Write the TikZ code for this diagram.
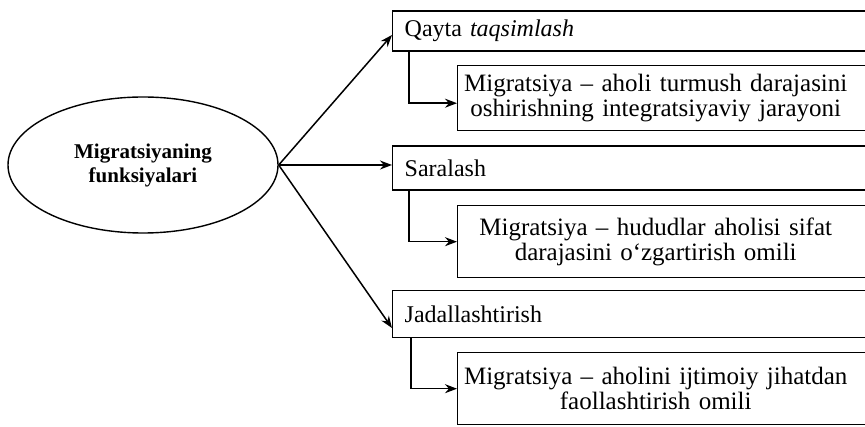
\documentclass[tikz,border=0pt]{standalone}
\usepackage{fontspec}
\setmainfont{Liberation Serif}
\usetikzlibrary{arrows.meta, shapes.geometric}
\tikzset{
    arrow/.style={-{Stealth[length=12pt,width=9pt]}, line width=1.5pt},
    mainnode/.style={draw, ellipse, line width=1.4pt, minimum width=270pt, minimum height=136pt, align=center, font=\fontsize{21}{24}\selectfont\bfseries},
    headbox/.style={draw, line width=1.4pt, anchor=west, minimum height=44pt, text width=470pt, inner xsep=12pt, align=left, font=\fontsize{24}{25}\selectfont},
    subbox/.style={draw, line width=1.4pt, anchor=north west, minimum height=72pt, inner xsep=0pt, text width=440pt, align=left, font=\fontsize{25}{25}\selectfont}
}

\begin{document}
\begin{tikzpicture}[x=1pt, y=-1pt]
    \path[use as bounding box] (0,0) rectangle (865,427);
    \clip (0,0) rectangle (865,427);
    % Main node
    \node[mainnode] (func) at (143,165) {Migratsiyaning\\funksiyalari};
    % Functions
    \node[headbox, minimum height=40pt] (head1) at (392,31) {Qayta \textit{taqsimlash}};
    \node[headbox] (head2) at (392,168) {Saralash};
    \node[headbox, minimum height=47pt] (head3) at (392,314) {Jadallashtirish};
    % Explanations
    \node[subbox, minimum height=65pt] (sub1) at (457,65) {\parbox{396pt}{\centering Migratsiya -- aholi turmush darajasini\\oshirishning integratsiyaviy jarayoni}};
    \node[subbox] (sub2) at (457,205) {\parbox{396pt}{\centering Migratsiya -- hududlar aholisi sifat\\darajasini o‘zgartirish omili}};
    \node[subbox] (sub3) at (457,352) {\parbox{396pt}{\centering Migratsiya -- aholini ijtimoiy jihatdan\\faollashtirish omili}};
    % Arrows from main node
    \draw[arrow] (func.east) -- ([yshift=-4pt]head1.west);
    \draw[arrow] (func.east) -- ([yshift=3pt]head2.west);
    \draw[arrow] (func.east) -- ([yshift=-14pt]head3.west);
    % Elbows
    \draw[arrow] ([xshift=17pt]head1.south west) |- ([yshift=-5pt]sub1.west);
    \draw[arrow] ([xshift=17pt]head2.south west) |- (sub2.west);
    \draw[arrow] ([xshift=19pt]head3.south west) |- (sub3.west);
\end{tikzpicture}
\end{document}
